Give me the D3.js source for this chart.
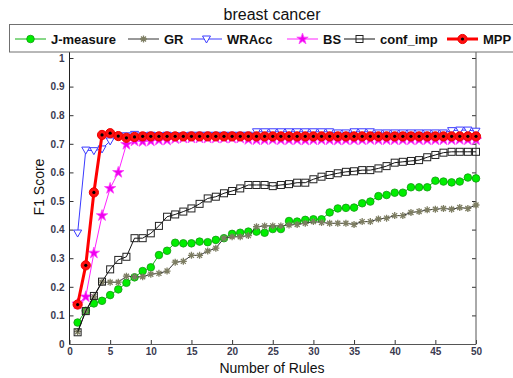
<!DOCTYPE html>
<html>
<head>
<meta charset="utf-8">
<script src="https://cdn.jsdelivr.net/npm/d3@7"></script>
<style>
  html, body { margin: 0; padding: 0; background: #fff; }
  svg { display: block; font-family: "Liberation Sans", Arial, sans-serif; }
</style>
</head>
<body>
<svg id="chart" width="513" height="378"></svg>
<script>
// F1 score versus number of rules, breast cancer dataset
const ruleCounts = d3.range(1, 51);

const jMeasure = [0.075, 0.116, 0.142, 0.151, 0.171, 0.191, 0.214, 0.233, 0.255, 0.268,
  0.311, 0.326, 0.354, 0.352, 0.352, 0.358, 0.356, 0.364, 0.370, 0.385,
  0.389, 0.393, 0.393, 0.389, 0.402, 0.402, 0.430, 0.428, 0.434, 0.436,
  0.436, 0.460, 0.474, 0.476, 0.477, 0.492, 0.498, 0.517, 0.521, 0.529,
  0.529, 0.548, 0.548, 0.548, 0.571, 0.568, 0.565, 0.568, 0.582, 0.579];

const gr = [0.043, 0.115, 0.165, 0.216, 0.216, 0.216, 0.237, 0.235, 0.235, 0.244,
  0.247, 0.255, 0.286, 0.289, 0.310, 0.310, 0.325, 0.335, 0.370, 0.375,
  0.375, 0.379, 0.410, 0.413, 0.413, 0.413, 0.416, 0.418, 0.422, 0.428,
  0.425, 0.422, 0.422, 0.422, 0.418, 0.428, 0.428, 0.437, 0.440, 0.449,
  0.449, 0.460, 0.463, 0.469, 0.471, 0.474, 0.471, 0.477, 0.474, 0.486];

const wracc = [0.388, 0.678, 0.676, 0.682, 0.710, 0.728, 0.728, 0.733, 0.728, 0.730,
  0.728, 0.730, 0.728, 0.728, 0.730, 0.730, 0.730, 0.730, 0.730, 0.730,
  0.730, 0.730, 0.742, 0.742, 0.742, 0.742, 0.742, 0.742, 0.742, 0.742,
  0.742, 0.742, 0.738, 0.738, 0.742, 0.742, 0.742, 0.738, 0.738, 0.738,
  0.738, 0.738, 0.738, 0.738, 0.738, 0.738, 0.746, 0.748, 0.748, 0.744];

const bs = [0.140, 0.165, 0.318, 0.449, 0.544, 0.600, 0.698, 0.710, 0.708, 0.710,
  0.713, 0.713, 0.718, 0.720, 0.720, 0.720, 0.720, 0.720, 0.720, 0.720,
  0.720, 0.715, 0.714, 0.714, 0.715, 0.714, 0.714, 0.714, 0.713, 0.714,
  0.714, 0.714, 0.713, 0.714, 0.714, 0.714, 0.715, 0.714, 0.714, 0.714,
  0.714, 0.714, 0.714, 0.714, 0.714, 0.714, 0.714, 0.715, 0.714, 0.714];

const confImp = [0.041, 0.115, 0.168, 0.218, 0.261, 0.294, 0.305, 0.370, 0.370, 0.387,
  0.413, 0.445, 0.453, 0.463, 0.474, 0.490, 0.509, 0.515, 0.527, 0.535,
  0.544, 0.556, 0.556, 0.556, 0.552, 0.556, 0.559, 0.564, 0.564, 0.576,
  0.585, 0.591, 0.597, 0.602, 0.604, 0.608, 0.608, 0.614, 0.622, 0.634,
  0.637, 0.640, 0.643, 0.653, 0.661, 0.669, 0.672, 0.672, 0.672, 0.672];

const mpp = [0.138, 0.275, 0.530, 0.731, 0.737, 0.727, 0.721, 0.724, 0.726, 0.726,
  0.726, 0.726, 0.726, 0.726, 0.726, 0.726, 0.726, 0.726, 0.726, 0.726,
  0.726, 0.726, 0.726, 0.726, 0.726, 0.726, 0.726, 0.726, 0.726, 0.726,
  0.726, 0.726, 0.726, 0.726, 0.726, 0.726, 0.726, 0.726, 0.726, 0.726,
  0.726, 0.726, 0.726, 0.726, 0.726, 0.726, 0.726, 0.726, 0.726, 0.726];

const seriesNames = ["J-measure", "GR", "WRAcc", "BS", "conf_imp", "MPP"];
const xTicks = [0, 5, 10, 15, 20, 25, 30, 35, 40, 45, 50];
const yTicks = [0, 0.1, 0.2, 0.3, 0.4, 0.5, 0.6, 0.7, 0.8, 0.9, 1];

const svg = d3.select("#chart");
const plotLeft = 69.5, plotRight = 476, plotBottom = 344, plotTop = 58, frameTop = 52;

const x = d3.scaleLinear().domain([0, 50]).range([plotLeft, plotRight]);
const y = d3.scaleLinear().domain([0, 1]).range([plotBottom, plotTop]);

const tickColor = "#3a3a50";

// axes (ticks point inward)
const gx = svg.append("g").attr("transform", `translate(0,${plotBottom})`)
  .call(d3.axisBottom(x).tickValues(xTicks).tickFormat(d3.format("d"))
    .tickSizeInner(-4).tickSizeOuter(0).tickPadding(4));
const gy = svg.append("g").attr("transform", `translate(${plotLeft},0)`)
  .call(d3.axisLeft(y).tickValues(yTicks).tickFormat(d => d === 0 || d === 1 ? d3.format("d")(d) : d3.format(".1f")(d))
    .tickSizeInner(-4).tickSizeOuter(0).tickPadding(5));
const gyr = svg.append("g").attr("transform", `translate(${plotRight},0)`)
  .call(d3.axisRight(y).tickValues(yTicks).tickFormat("")
    .tickSizeInner(-4).tickSizeOuter(0));
[gx, gy, gyr].forEach(g => {
  g.select(".domain").remove();
  g.selectAll(".tick line").attr("stroke", "#333").attr("stroke-width", 1);
  g.selectAll(".tick text").attr("fill", tickColor)
    .style("font-size", "10px").style("font-weight", "bold")
    .style("font-family", "'Liberation Sans', Arial, sans-serif");
});

// frame lines
svg.append("line").attr("x1", plotLeft).attr("x2", plotLeft).attr("y1", frameTop).attr("y2", plotBottom + 0.5)
  .attr("stroke", "#222").attr("stroke-width", 1);
svg.append("line").attr("x1", plotRight).attr("x2", plotRight).attr("y1", frameTop).attr("y2", plotBottom + 0.5)
  .attr("stroke", "#555").attr("stroke-width", 1);
svg.append("line").attr("x1", plotLeft).attr("x2", plotRight).attr("y1", plotBottom + 0.5).attr("y2", plotBottom + 0.5)
  .attr("stroke", "#555").attr("stroke-width", 1);

// axis titles
svg.append("text").attr("x", 272).attr("y", 373).attr("text-anchor", "middle")
  .style("font-size", "14px").attr("fill", "#111").text("Number of Rules");
svg.append("text").attr("transform", "translate(44,187) rotate(-90)").attr("text-anchor", "middle")
  .style("font-size", "14px").attr("fill", "#111").text("F1 Score");

// chart title
svg.append("text").attr("x", 272).attr("y", 20).attr("text-anchor", "middle")
  .style("font-size", "16px").attr("fill", "#111").text("breast cancer");

// marker shapes
const star5 = d3.symbol().type(d3.symbolStar).size(40);
const tri = "M-4,-3L4,-3L0,4Z";
const asterisk = "M-3.5,0L3.5,0M0,-3.5L0,3.5M-2.5,-2.5L2.5,2.5M-2.5,2.5L2.5,-2.5";

const styles = [
  { name: "J-measure", data: jMeasure, line: "#10b010", lw: 1,
    marker: g => g.append("circle").attr("r", 3.8).attr("fill", "#00ee00").attr("stroke", "#119911").attr("stroke-width", 0.8) },
  { name: "GR", data: gr, line: "#333", lw: 1,
    marker: g => g.append("path").attr("d", asterisk).attr("stroke", "#7d7d62").attr("stroke-width", 1.3).attr("fill", "none") },
  { name: "WRAcc", data: wracc, line: "#3a3aff", lw: 1,
    marker: g => g.append("path").attr("d", tri).attr("fill", "#fff").attr("stroke", "#3a3aff").attr("stroke-width", 1) },
  { name: "BS", data: bs, line: "#ff22ff", lw: 1,
    marker: g => g.append("path").attr("d", star5()).attr("fill", "#ee00ee").attr("stroke", "#ff44ff").attr("stroke-width", 0.8) },
  { name: "conf_imp", data: confImp, line: "#111", lw: 1,
    marker: g => g.append("rect").attr("x", -3.5).attr("y", -3.5).attr("width", 7).attr("height", 7)
      .attr("fill", "none").attr("stroke", "#222").attr("stroke-width", 1) },
  { name: "MPP", data: mpp, line: "#ff0000", lw: 3,
    marker: g => { g.append("circle").attr("r", 4.6).attr("fill", "#ff1010").attr("stroke", "#ee0000");
                   g.append("circle").attr("r", 1.6).attr("fill", "#000"); } }
];

const lineGen = d3.line().x((d, i) => x(ruleCounts[i])).y(d => y(d));

styles.forEach(s => {
  const g = svg.append("g").attr("class", "series");
  g.append("path").datum(s.data).attr("d", lineGen)
    .attr("fill", "none").attr("stroke", s.line).attr("stroke-width", s.lw)
    .attr("stroke-linejoin", "round");
  g.selectAll("g.pt").data(s.data).join("g").attr("class", "pt")
    .attr("transform", (d, i) => `translate(${x(ruleCounts[i])},${y(d)})`)
    .each(function () { s.marker(d3.select(this)); });
});

// legend
const legend = svg.append("g");
legend.append("rect").attr("x", 9.5).attr("y", 24.5).attr("width", 510).attr("height", 27.5)
  .attr("fill", "#fff").attr("stroke", "#707070").attr("stroke-width", 1);
const itemStarts = [15, 128, 191, 287, 344, 447];
styles.forEach((s, i) => {
  const x0 = itemStarts[i], ly = 39;
  legend.append("line").attr("x1", x0).attr("x2", x0 + 31).attr("y1", ly).attr("y2", ly)
    .attr("stroke", s.line).attr("stroke-width", s.lw);
  const m = legend.append("g").attr("transform", `translate(${x0 + 15.5},${ly})`);
  s.marker(m);
  legend.append("text").attr("x", x0 + 36).attr("y", ly + 4.5)
    .style("font-size", "13px").style("font-weight", "bold").attr("fill", "#111").text(seriesNames[i]);
});
</script>
</body>
</html>
